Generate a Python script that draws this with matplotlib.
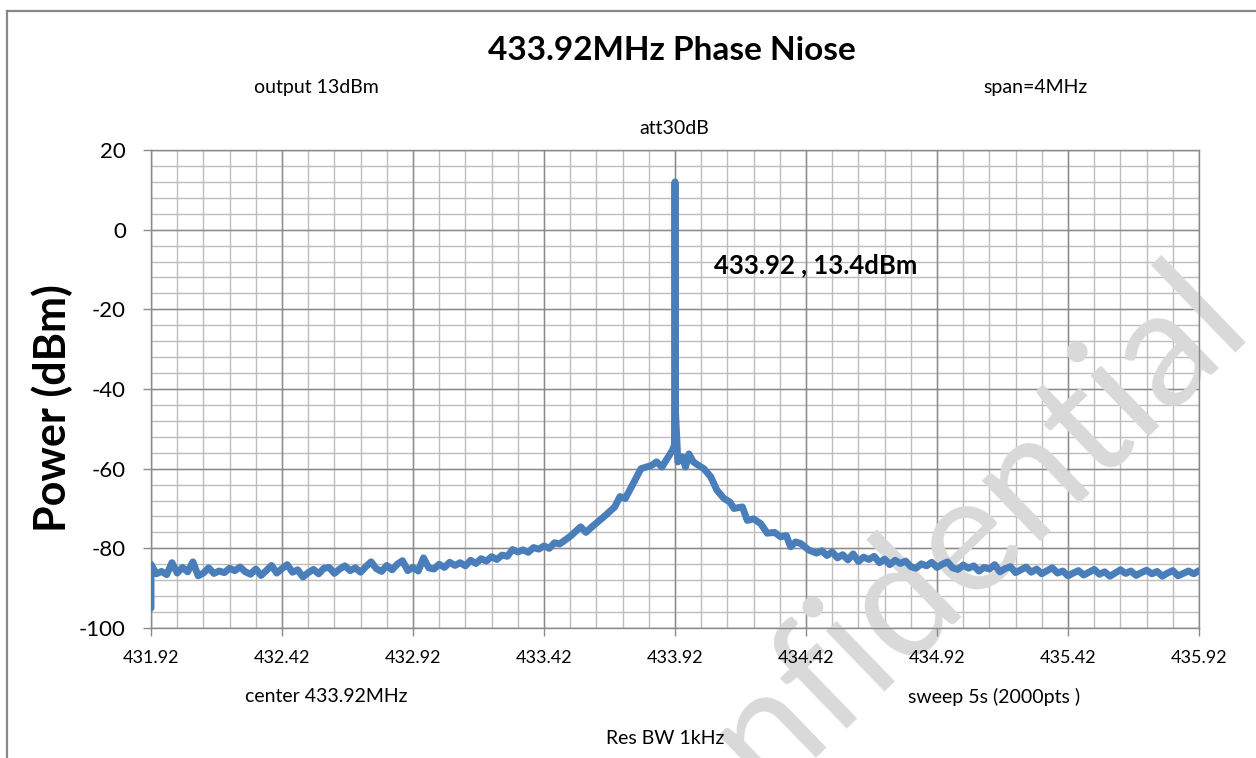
import numpy as np
import matplotlib
matplotlib.use('Agg')
import matplotlib.pyplot as plt
from matplotlib.ticker import FixedLocator
from matplotlib.lines import Line2D

plt.rcParams['font.family'] = ['Lato', 'DejaVu Sans']

# spectrum trace (MHz, dBm)
# noise floor left of the carrier
left_freq = [431.92, 431.92, 431.94, 431.96, 431.98, 432.00, 432.02, 432.04, 432.06, 432.08,
             432.10, 432.12, 432.14, 432.16, 432.18, 432.20, 432.22, 432.24, 432.26, 432.28,
             432.30, 432.32, 432.34, 432.36, 432.38, 432.40, 432.42, 432.44, 432.46, 432.48,
             432.50, 432.52, 432.54, 432.56, 432.58, 432.60, 432.62, 432.64, 432.66, 432.68,
             432.70, 432.72, 432.74, 432.76, 432.78, 432.80, 432.82, 432.84, 432.86, 432.88,
             432.90, 432.92, 432.94, 432.96, 432.98, 433.00, 433.02, 433.04, 433.06, 433.08,
             433.10, 433.12, 433.14, 433.16, 433.18, 433.20, 433.22, 433.24, 433.26, 433.28,
             433.30, 433.32, 433.34, 433.36, 433.38, 433.40, 433.42, 433.44, 433.46, 433.48]
left_power = [-95.0, -84.0, -86.4, -85.8, -86.6, -83.6, -86.2, -84.8, -85.9, -83.4,
              -86.9, -86.2, -84.9, -86.3, -85.7, -86.1, -85.0, -85.6, -84.7, -85.9,
              -86.5, -85.2, -86.8, -85.6, -84.3, -86.2, -85.1, -84.1, -86.0, -85.4,
              -87.2, -86.1, -85.3, -86.4, -85.0, -84.8, -86.3, -85.2, -84.4, -85.6,
              -84.9, -86.0, -84.6, -83.4, -85.1, -85.8, -84.3, -85.4, -84.0, -83.1,
              -85.6, -84.8, -85.7, -82.4, -84.9, -85.2, -84.0, -84.8, -83.5, -84.3,
              -83.6, -84.4, -83.0, -83.8, -82.6, -83.2, -82.1, -82.8, -81.7, -82.0,
              -80.3, -80.9, -80.4, -81.0, -79.8, -80.2, -79.4, -80.0, -78.6, -78.9]

# carrier and close-in phase noise
mid_freq = [433.52, 433.56, 433.58, 433.61, 433.65, 433.69, 433.71, 433.73, 433.76, 433.79,
            433.81, 433.83, 433.85, 433.87, 433.89, 433.91, 433.918, 433.92, 433.922, 433.931,
            433.948, 433.96, 433.973, 433.99, 434.01, 434.03, 434.056, 434.08, 434.107, 434.13,
            434.145, 434.177, 434.196, 434.22, 434.247, 434.272, 434.30, 434.323, 434.345, 434.361,
            434.38, 434.40, 434.43]
mid_power = [-77.0, -74.6, -76.0, -74.2, -72.0, -69.6, -67.0, -67.5, -63.8, -60.0,
             -59.6, -59.2, -58.3, -59.6, -57.5, -55.4, -54.0, 12.0, -46.0, -58.3,
             -57.0, -59.6, -56.3, -58.3, -59.2, -60.0, -62.0, -65.4, -67.5, -68.4,
             -70.0, -69.6, -73.0, -72.6, -73.8, -76.2, -76.0, -77.1, -76.8, -79.6,
             -78.4, -78.8, -80.4]

# noise floor right of the carrier
right_freq = [434.46, 434.48, 434.50, 434.52, 434.54, 434.56, 434.58, 434.60, 434.62, 434.64,
              434.66, 434.68, 434.70, 434.72, 434.74, 434.76, 434.78, 434.80, 434.82, 434.84,
              434.86, 434.88, 434.90, 434.92, 434.94, 434.96, 434.98, 435.00, 435.02, 435.04,
              435.06, 435.08, 435.10, 435.12, 435.14, 435.16, 435.18, 435.20, 435.22, 435.24,
              435.26, 435.28, 435.30, 435.32, 435.34, 435.36, 435.38, 435.40, 435.42, 435.44,
              435.46, 435.48, 435.50, 435.52, 435.54, 435.56, 435.58, 435.60, 435.62, 435.64,
              435.66, 435.68, 435.70, 435.72, 435.74, 435.76, 435.78, 435.80, 435.82, 435.84,
              435.86, 435.88, 435.90, 435.92]
right_power = [-81.2, -80.6, -81.8, -80.9, -82.4, -81.6, -82.9, -81.4, -83.3, -82.2,
               -82.8, -82.0, -83.6, -82.7, -84.1, -83.0, -83.8, -83.2, -84.6, -85.0,
               -83.9, -84.4, -83.5, -84.8, -84.0, -83.4, -84.9, -85.3, -84.2, -85.0,
               -84.4, -85.7, -84.8, -85.2, -84.1, -85.9, -85.1, -84.6, -86.1, -85.4,
               -84.7, -86.0, -85.2, -86.4, -85.6, -84.9, -86.2, -85.7, -86.9, -86.2,
               -85.6, -86.7, -86.0, -85.3, -86.5, -85.9, -87.0, -86.2, -85.4, -86.3,
               -85.7, -86.8, -86.1, -85.5, -86.4, -85.8, -87.0, -86.2, -85.6, -86.9,
               -86.3, -85.7, -86.4, -85.6]

x_ticks = [431.92, 432.42, 432.92, 433.42, 433.92, 434.42, 434.92, 435.42, 435.92]
y_ticks = [-100, -80, -60, -40, -20, 0, 20]

freq = left_freq + mid_freq + right_freq
power = left_power + mid_power + right_power

W, H = 1256, 758
fig = plt.figure(figsize=(W / 100, H / 100), dpi=100)


def fx(px):
    return px / W


def fy(py):
    return 1 - py / H


ax = fig.add_axes([fx(151), fy(628), fx(1199) - fx(151), fy(150) - fy(628)])
ax.set_xlim(431.92, 435.92)
ax.set_ylim(-100, 20)

ax.xaxis.set_major_locator(FixedLocator(x_ticks))
ax.yaxis.set_major_locator(FixedLocator(y_ticks))
ax.set_xticklabels(['%.2f' % v for v in x_ticks])
ax.set_yticklabels([str(v) for v in y_ticks])

# grid drawn by hand so the watermark can sit between grid and tick labels
minor_x = np.linspace(431.92, 435.92, 41)
minor_y = np.linspace(-100, 20, 31)
ax.vlines(minor_x, -100, 20, color='#bdbdbd', lw=1.0, zorder=0.6)
ax.hlines(minor_y, 431.92, 435.92, color='#bdbdbd', lw=1.0, zorder=0.6)
ax.vlines(x_ticks, -100, 20, color='#8a8a8a', lw=1.0, zorder=0.7)
ax.hlines(y_ticks, 431.92, 435.92, color='#8a8a8a', lw=1.0, zorder=0.7)

ax.tick_params(which='major', direction='out', length=6, width=1, color='#8a8a8a')
ax.tick_params(axis='x', labelsize=13, pad=10)
ax.tick_params(axis='y', labelsize=16, pad=12)
for s in ax.spines.values():
    s.set_color('#8a8a8a')
    s.set_linewidth(1.0)

ax.plot(freq, power, color='#4A7EBB', lw=5, solid_joinstyle='round',
        solid_capstyle='round', zorder=3)

# watermark
ax.text(fx(905), fy(600), 'Confidential', transform=fig.transFigure,
        fontsize=118, color='#d9d9d9', rotation=44, rotation_mode='anchor',
        ha='center', va='center', zorder=1, clip_on=False)

ax.text(434.07, -8.8, '433.92 , 13.4dBm', fontsize=18.5, fontweight='bold',
        va='center', ha='left', zorder=4)

fig.text(fx(672), fy(50), '433.92MHz Phase Niose', fontsize=24, fontweight='bold',
         ha='center', va='center')
fig.text(fx(316), fy(87), 'output 13dBm', fontsize=14, ha='center', va='center')
fig.text(fx(1036), fy(87), 'span=4MHz', fontsize=14, ha='center', va='center')
fig.text(fx(674), fy(129), 'att30dB', fontsize=14, ha='center', va='center')
fig.text(fx(326), fy(697), 'center 433.92MHz', fontsize=14, ha='center', va='center')
fig.text(fx(994), fy(697), 'sweep 5s (2000pts )', fontsize=14, ha='center', va='center')
fig.text(fx(665), fy(739), 'Res BW 1kHz', fontsize=14, ha='center', va='center')
fig.text(fx(52), fy(408), 'Power (dBm)', fontsize=31, fontweight='bold',
         rotation=90, ha='center', va='center')

# chart-area border (only left and top edges are in view)
fig.add_artist(Line2D([fx(7), fx(7)], [fy(11), 0], color='#888888', lw=1.6))
fig.add_artist(Line2D([fx(7), 1], [fy(11), fy(11)], color='#888888', lw=1.6))

fig.savefig('out.png', dpi=100)
